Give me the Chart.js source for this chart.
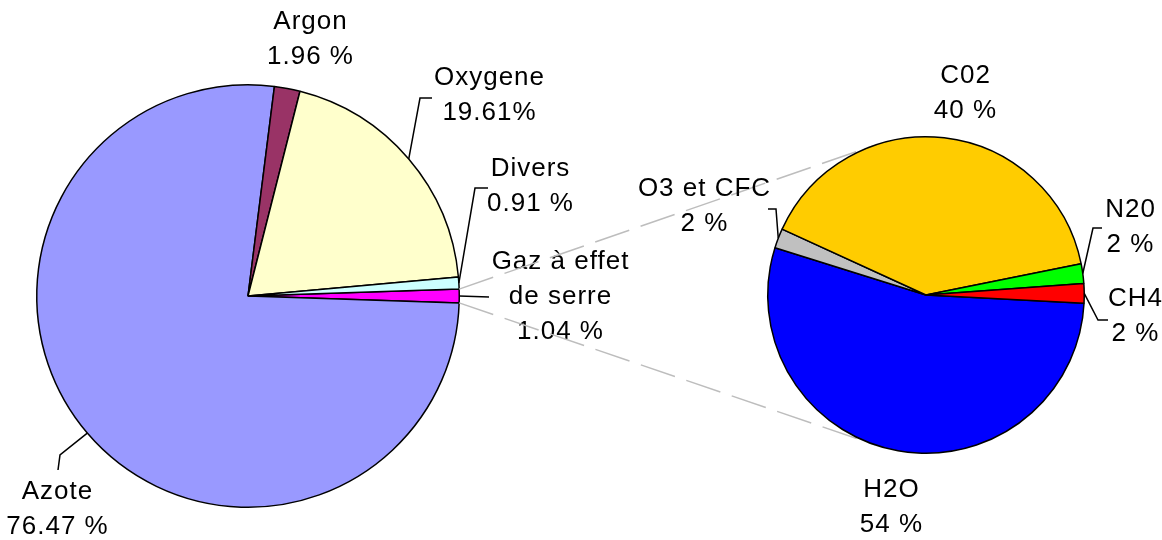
<!DOCTYPE html>
<html lang="fr">
<head>
<meta charset="utf-8">
<title>Composition de l'air</title>
<script src="https://cdn.jsdelivr.net/npm/chart.js@4.4.1/dist/chart.umd.min.js"></script>
<style>
html, body { margin: 0; padding: 0; background: #fff; }
#zone { position: relative; width: 1162px; height: 540px; }
canvas { position: absolute; left: 0; top: 0; }
</style>
</head>
<body>
<div id="zone">
<canvas id="gauche" width="1162" height="540"></canvas>
<canvas id="droite" width="1162" height="540"></canvas>
</div>
<script>
// camembert principal : composition de l'air
const gaz = ['Gaz à effet\nde serre', 'Azote', 'Argon', 'Oxygene', 'Divers']
const pourcentages = [1.04, 76.47, 1.96, 19.61, 0.91]
const textesPourcentages = ['1.04 %', '76.47 %', '1.96 %', '19.61%', '0.91 %']
const couleurs = ['#ff00ff', '#9999ff', '#993366', '#ffffcc', '#ccffff']

// second camembert : detail des gaz a effet de serre
const gazSerre = ['H2O', 'O3 et CFC', 'C02', 'N20', 'CH4']
const partsSerre = [54, 2, 40, 2, 2]
const textesSerre = ['54 %', '2 %', '40 %', '2 %', '2 %']
const couleursSerre = ['#0000ff', '#c0c0c0', '#ffcc00', '#00ff00', '#ff0000']

let graphiqueGauche // utilise par les traits de liaison

// etiquettes + traits de rappel, places par rapport au centre du camembert
const pluginEtiquettes = {
    id: 'etiquettes',
    afterDatasetsDraw(chart, args, opts) {
        const ctx = chart.ctx
        const arcs = chart.getDatasetMeta(0).data
        const noms = chart.data.labels
        ctx.save()
        ctx.font = '26px "Liberation Sans", Arial, sans-serif'
        ctx.letterSpacing = '1px'
        ctx.fillStyle = '#000'
        ctx.strokeStyle = '#000'
        ctx.lineWidth = 1.5
        ctx.textAlign = 'center'
        ctx.textBaseline = 'middle'
        arcs.forEach((arc, i) => {
            const p = opts.places[i]
            const cx = arc.x, cy = arc.y
            if (p.trait) {
                const milieu = (arc.startAngle + arc.endAngle) / 2
                ctx.beginPath()
                ctx.moveTo(cx + Math.cos(milieu) * arc.outerRadius, cy + Math.sin(milieu) * arc.outerRadius)
                p.trait.forEach(pt => ctx.lineTo(cx + pt[0], cy + pt[1]))
                ctx.stroke()
            }
            const lignes = noms[i].split('\n').concat(opts.textes[i])
            lignes.forEach((t, k) => ctx.fillText(t, cx + p.texte[0] + 0.5, cy + p.texte[1] + k * 35))
        })
        ctx.restore()
    }
}

// traits gris entre la part "gaz a effet de serre" et le second camembert
const pluginLiaison = {
    id: 'liaison',
    beforeDatasetsDraw(chart) {
        if (!graphiqueGauche) return
        const part = graphiqueGauche.getDatasetMeta(0).data[0]
        const centre = chart.getDatasetMeta(0).data[0]
        const r = centre.outerRadius
        const ctx = chart.ctx
        ctx.save()
        ctx.strokeStyle = '#bdbdbd'
        ctx.lineWidth = 1.5
        ctx.setLineDash([36, 12])
        ;[part.startAngle, part.endAngle].forEach((a, k) => {
            const px = part.x + Math.cos(a) * part.outerRadius
            const py = part.y + Math.sin(a) * part.outerRadius
            const dx = px - centre.x, dy = py - centre.y
            const phi = Math.atan2(dy, dx)
            const t = phi + (k === 0 ? 1 : -1) * Math.acos(r / Math.hypot(dx, dy))
            ctx.beginPath()
            ctx.moveTo(px, py)
            ctx.lineTo(centre.x + Math.cos(t) * r, centre.y + Math.sin(t) * r)
            ctx.stroke()
        })
        ctx.restore()
    }
}

const total = pourcentages.reduce((a, b) => a + b, 0)

graphiqueGauche = new Chart(document.getElementById('gauche'), {
    type: 'pie',
    data: {
        labels: gaz,
        datasets: [{
            data: pourcentages,
            backgroundColor: couleurs,
            borderColor: '#000',
            borderWidth: 1.5
        }]
    },
    options: {
        responsive: false,
        animation: false,
        events: [],
        rotation: 90 - pourcentages[0] / total * 180, // part isolee centree a droite
        layout: { padding: { left: 36, right: 702, top: 84, bottom: 32 } },
        plugins: {
            legend: { display: false },
            tooltip: { enabled: false },
            etiquettes: {
                textes: textesPourcentages,
                places: [
                    { texte: [312, -34], trait: [[241, 1]] },
                    { texte: [-191, 196], trait: [[-188, 159], [-190, 174]] },
                    { texte: [62, -274] },
                    { texte: [241, -218], trait: [[172, -198], [184, -198]] },
                    { texte: [282, -127], trait: [[227, -108], [240, -108]] }
                ]
            }
        }
    },
    plugins: [pluginEtiquettes]
})

new Chart(document.getElementById('droite'), {
    type: 'pie',
    data: {
        labels: gazSerre,
        datasets: [{
            data: partsSerre,
            backgroundColor: couleursSerre,
            borderColor: '#000',
            borderWidth: 1.5
        }]
    },
    options: {
        responsive: false,
        animation: false,
        events: [],
        rotation: 93,
        layout: { padding: { left: 767, right: 77, top: 136, bottom: 86 } },
        plugins: {
            legend: { display: false },
            tooltip: { enabled: false },
            etiquettes: {
                textes: textesSerre,
                places: [
                    { texte: [-35, 195] },
                    { texte: [-222, -106], trait: [[-150, -86], [-158, -86]] },
                    { texte: [39, -219] },
                    { texte: [204, -85], trait: [[167, -67], [176, -67]] },
                    { texte: [209, 4], trait: [[172, 25], [182, 25]] }
                ]
            }
        }
    },
    plugins: [pluginLiaison, pluginEtiquettes]
})
</script>
</body>
</html>
